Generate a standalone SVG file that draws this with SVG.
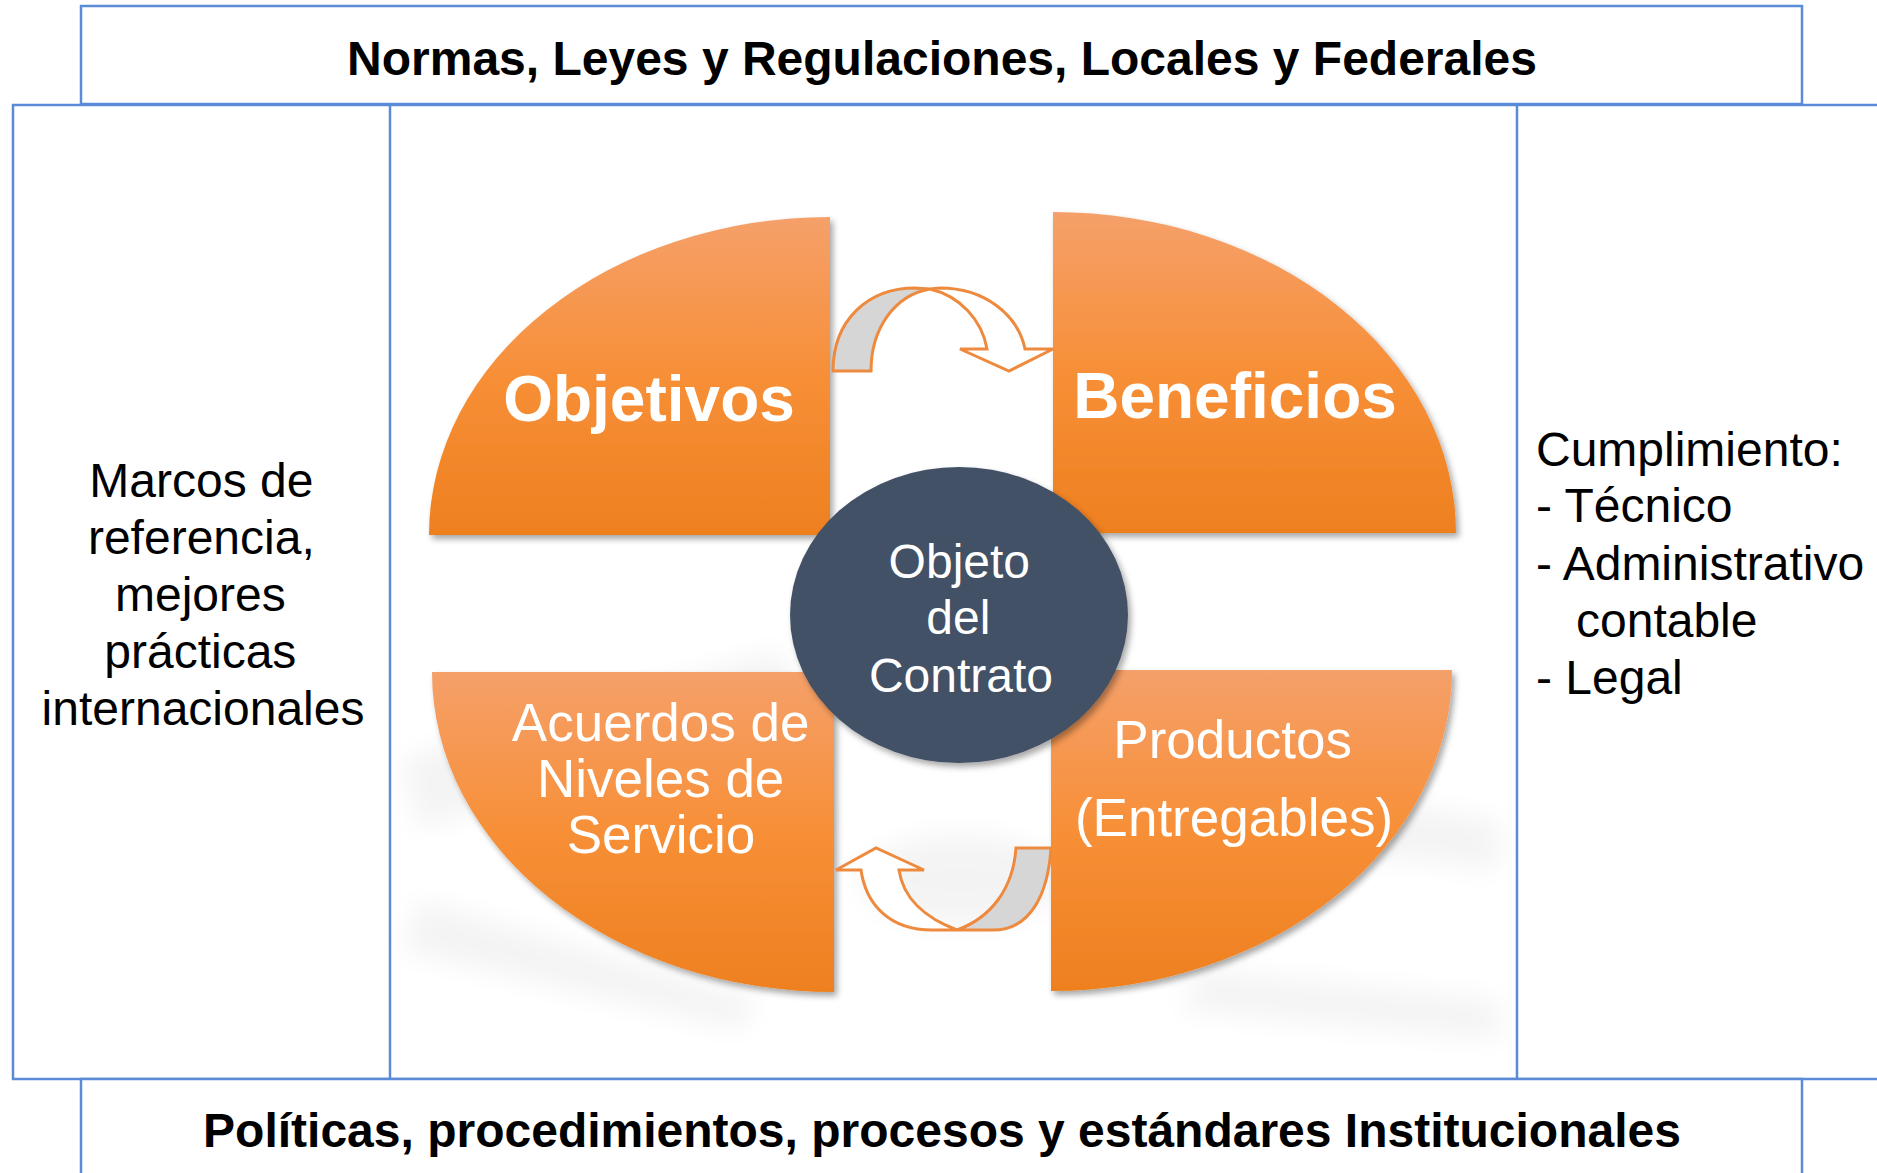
<svg xmlns="http://www.w3.org/2000/svg" width="1877" height="1173" viewBox="0 0 1877 1173">
<defs>
<linearGradient id="og" x1="0" y1="0" x2="0" y2="1">
<stop offset="0" stop-color="#F5A06A"/>
<stop offset="0.5" stop-color="#F78F37"/>
<stop offset="1" stop-color="#EE801F"/>
</linearGradient>
<filter id="sh" x="-10%" y="-10%" width="125%" height="125%">
<feDropShadow dx="3" dy="4" stdDeviation="3" flood-color="#000" flood-opacity="0.35"/>
</filter>
<filter id="blur" x="-20%" y="-20%" width="140%" height="140%">
<feGaussianBlur stdDeviation="14"/>
</filter>
<style>
.ln{fill:none;stroke:#5B8AD6;stroke-width:2.5}
.box{fill:#fff;stroke:#5B8AD6;stroke-width:2.5}
.hd{font-family:"Liberation Sans",Arial,sans-serif;font-weight:bold;font-size:48px;fill:#000;text-anchor:middle}
.side{font-family:"Liberation Sans",Arial,sans-serif;font-size:48px;fill:#000}
.q{fill:url(#og);filter:url(#sh)}
.qb{font-family:"Liberation Sans",Arial,sans-serif;font-weight:bold;font-size:64px;fill:#fff;text-anchor:middle}
.qt{font-family:"Liberation Sans",Arial,sans-serif;font-size:53px;fill:#fff;text-anchor:middle}
.ct{font-family:"Liberation Sans",Arial,sans-serif;font-size:48px;fill:#fff;text-anchor:middle}
.ar{stroke:#EE8A3E;stroke-width:3;stroke-linejoin:miter}
</style>
</defs>
<rect width="1877" height="1173" fill="#fff"/>

<g id="background" filter="url(#blur)" opacity="0.045">
<path d="M400,760 L780,650 L800,690 L420,830 Z" fill="#000"/>
<path d="M420,900 L760,1000 L740,1030 L400,950 Z" fill="#000"/>
<path d="M1300,790 L1500,820 L1500,870 L1320,850 Z" fill="#000"/>
<path d="M1200,970 L1500,1000 L1500,1040 L1180,1010 Z" fill="#000"/>
<ellipse cx="960" cy="880" rx="100" ry="45" fill="#000"/>
</g>

<g id="frame">
<rect class="ln" x="13" y="105" width="1900" height="974"/>
<line class="ln" x1="390" y1="105" x2="390" y2="1079"/>
<line class="ln" x1="1517" y1="105" x2="1517" y2="1079"/>
</g>

<g id="top-box">
<rect class="box" x="81" y="6" width="1721" height="98"/>
<text class="hd" x="942" y="75">Normas, Leyes y Regulaciones, Locales y Federales</text>
</g>

<g id="bottom-box">
<rect class="box" x="81" y="1079" width="1721" height="200"/>
<text class="hd" x="942" y="1147">Políticas, procedimientos, procesos y estándares Institucionales</text>
</g>

<g id="left-panel">
<text class="side" text-anchor="middle">
<tspan x="208" y="497">Marcos de</tspan>
<tspan x="208" y="554">referencia,</tspan>
<tspan x="207" y="611">mejores</tspan>
<tspan x="207" y="668">prácticas</tspan>
<tspan x="203" y="725">internacionales</tspan>
</text>
</g>

<g id="right-panel">
<text class="side">
<tspan x="1536" y="466">Cumplimiento:</tspan>
<tspan x="1536" y="522">- Técnico</tspan>
<tspan x="1536" y="580">- Administrativo</tspan>
<tspan x="1576" y="637">contable</tspan>
<tspan x="1536" y="694">- Legal</tspan>
</text>
</g>

<g id="objetivos">
<path class="q" d="M830,535 L830,217 A401,318 0 0 0 429,535 Z"/>
<text class="qb" x="649" y="421">Objetivos</text>
</g>

<g id="beneficios">
<path class="q" d="M1053,533 L1053,212 A403,321 0 0 1 1456,533 Z"/>
<text class="qb" x="1235" y="418">Beneficios</text>
</g>

<g id="acuerdos">
<path class="q" d="M834,672 L432,672 A402,320 0 0 0 834,992 Z"/>
<text class="qt">
<tspan x="668" y="741">Acuerdos de</tspan>
<tspan x="668" y="797">Niveles de</tspan>
<tspan x="661" y="853">Servicio</tspan>
</text>
</g>

<g id="productos">
<path class="q" d="M1051,670 L1452,670 A401,321 0 0 1 1051,991 Z"/>
<text class="qt">
<tspan x="1240" y="758">Productos</tspan>
<tspan x="1234" y="836">(Entregables)</tspan>
</text>
</g>

<g id="connectors">
<g id="arrow-top">
<path class="ar" fill="#D6D6D6" d="M833,371 C833,320 868,288 915,288 L930,289 C895,295 871,328 871,371 Z"/>
<path class="ar" fill="#fff" d="M930,289 L940,288 C985,288 1018,315 1025,349 L1053,349 L1009,371 L960,349 L987,349 C982,320 960,296 930,289 Z"/>
</g>
<g id="arrow-bottom">
<path class="ar" fill="#fff" d="M861,870 C866,905 890,930 932,930 L957,930 C925,918 903,898 899,870 L924,870 L876,848 L836,870 Z"/>
<path class="ar" fill="#D6D6D6" d="M957,930 L993,930 C1030,930 1048,895 1051,848 L1016,848 C1013,890 990,918 957,930 Z"/>
</g>
</g>

<g id="objeto">
<ellipse cx="959" cy="615" rx="169" ry="148" fill="#435165" filter="url(#sh)"/>
<text class="ct">
<tspan x="966" y="578">Objeto</tspan>
<tspan x="965" y="634">del</tspan>
<tspan x="961" y="692">Contrato</tspan>
</text>
</g>
</svg>
